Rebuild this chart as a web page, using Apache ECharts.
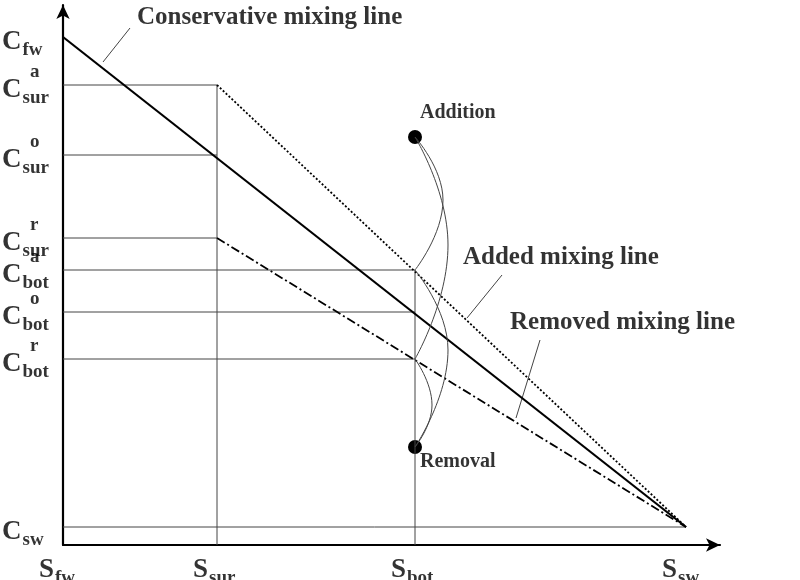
<!DOCTYPE html>
<html lang="en">
  <head>
    <meta charset="UTF-8" />
    <title>Mixing lines</title>
    <script src="https://cdn.jsdelivr.net/npm/echarts@6/dist/echarts.min.js"></script>
  </head>
  <body style="margin: 0">
    <div id="main" style="width: 800px; height: 580px"></div>
    <script>
      // salinity positions (x) and concentrations (y)
      var sNames = ["fw", "sur", "bot", "sw"];
      var sValues = [0, 154, 352, 623];
      var cLabels = [
        ["fw", ""], ["sur", "a"], ["sur", "o"], ["sur", "r"],
        ["bot", "a"], ["bot", "o"], ["bot", "r"], ["sw", ""]
      ];
      var cValues = [508, 460, 390, 307, 275, 233, 186, 18];

      var conservative = [[0, 508], [623, 18]];
      var added = [[154, 460], [623, 18]];
      var removed = [[154, 307], [623, 18]];
      var dots = [[352, 408], [352, 98]];
      var curves = [
        [[352, 408], [380, 345], [352, 275]],
        [[352, 408], [385, 300], [352, 186]],
        [[352, 275], [385, 195], [352, 98]],
        [[352, 186], [369, 140], [352, 98]]
      ];
      var leaders = [
        [[67, 517], [40, 483]],
        [[439, 270], [404, 227]],
        [[477, 205], [453, 127]]
      ];
      var notes = [
        ["Conservative mixing line", 74, 527, 25],
        ["Added mixing line", 400, 287, 25],
        ["Removed mixing line", 447, 222, 25],
        ["Addition", 357, 429, 20],
        ["Removal", 357, 80, 20]
      ];

      var font = "Liberation Serif";
      var thin = { color: "#444", width: 1 };
      var series = [];

      // guide lines from axes to the mixing-line points
      var guides = [];
      cValues.forEach(function (c, i) {
        var xEnd = i >= 1 && i <= 3 ? sValues[1] : i >= 4 && i <= 6 ? sValues[2] : null;
        if (i === 7) xEnd = sValues[3];
        if (xEnd !== null) guides.push([[0, c], [xEnd, c]]);
      });
      guides.push([[sValues[1], 0], [sValues[1], cValues[1]]]);
      guides.push([[sValues[2], 0], [sValues[2], cValues[4]]]);
      guides.concat(leaders).forEach(function (g) {
        series.push({ type: "line", data: g, symbol: "none", lineStyle: thin, silent: true });
      });

      series.push({ type: "line", data: conservative, symbol: "none", lineStyle: { color: "#000", width: 2.2 } });
      series.push({ type: "line", data: added, symbol: "none", lineStyle: { color: "#000", width: 1.8, type: [2, 2] } });
      series.push({ type: "line", data: removed, symbol: "none", lineStyle: { color: "#000", width: 1.8, type: [9, 3, 2, 3] } });

      curves.forEach(function (c) {
        series.push({ type: "line", data: c, smooth: true, symbol: "none", lineStyle: thin });
      });

      series.push({ type: "scatter", data: dots, symbolSize: 14, itemStyle: { color: "#000", opacity: 1 } });

      // axis labels drawn as label-only points
      var rich = {
        big: { fontFamily: font, fontWeight: "bold", fontSize: 27, color: "#000" },
        sub: { fontFamily: font, fontWeight: "bold", fontSize: 19, color: "#000", padding: [16, 0, 0, 1] },
        sup: { fontFamily: font, fontWeight: "bold", fontSize: 19, color: "#000" }
      };
      var yLab = cValues.map(function (c, i) {
        return { value: [0, c], label: { formatter: "{big|C}{sub|" + cLabels[i][0] + "}" } };
      });
      var ySup = cValues.map(function (c, i) {
        return { value: [0, c], label: { formatter: "{sup|" + cLabels[i][1] + "}" } };
      });
      var xLab = sValues.map(function (s, i) {
        return { value: [s, 0], label: { formatter: "{big|S}{sub|" + sNames[i] + "}" } };
      });
      series.push({ type: "scatter", data: yLab, symbolSize: 0, silent: true,
        label: { show: true, position: [-61, -12], align: "left", rich: rich } });
      series.push({ type: "scatter", data: ySup, symbolSize: 0, silent: true,
        label: { show: true, position: [-33, -22], align: "left", rich: rich } });
      series.push({ type: "scatter", data: xLab, symbolSize: 0, silent: true,
        label: { show: true, position: [-24, 8], align: "left", rich: rich } });

      series.push({
        type: "scatter", symbolSize: 0, silent: true,
        data: notes.map(function (n) {
          return {
            value: [n[1], n[2]],
            label: { formatter: n[0], fontSize: n[3] }
          };
        }),
        label: { show: true, position: [0, -13], align: "left",
          fontFamily: font, fontWeight: "bold", color: "#000", fontSize: 25 }
      });

      var axisBase = {
        type: "value", min: 0,
        axisLine: { show: true, symbol: ["none", "arrow"], symbolSize: [10, 14],
          lineStyle: { color: "#000", width: 2.2 } },
        axisTick: { show: false }, axisLabel: { show: false }, splitLine: { show: false }
      };
      var chart = echarts.init(document.getElementById("main"));
      chart.setOption({
        animation: false,
        backgroundColor: "#fff",
        grid: { left: 63, top: 5, width: 657, height: 540 },
        xAxis: Object.assign({}, axisBase, { max: 657 }),
        yAxis: Object.assign({}, axisBase, { max: 540 }),
        series: series
      });
    </script>
  </body>
</html>
